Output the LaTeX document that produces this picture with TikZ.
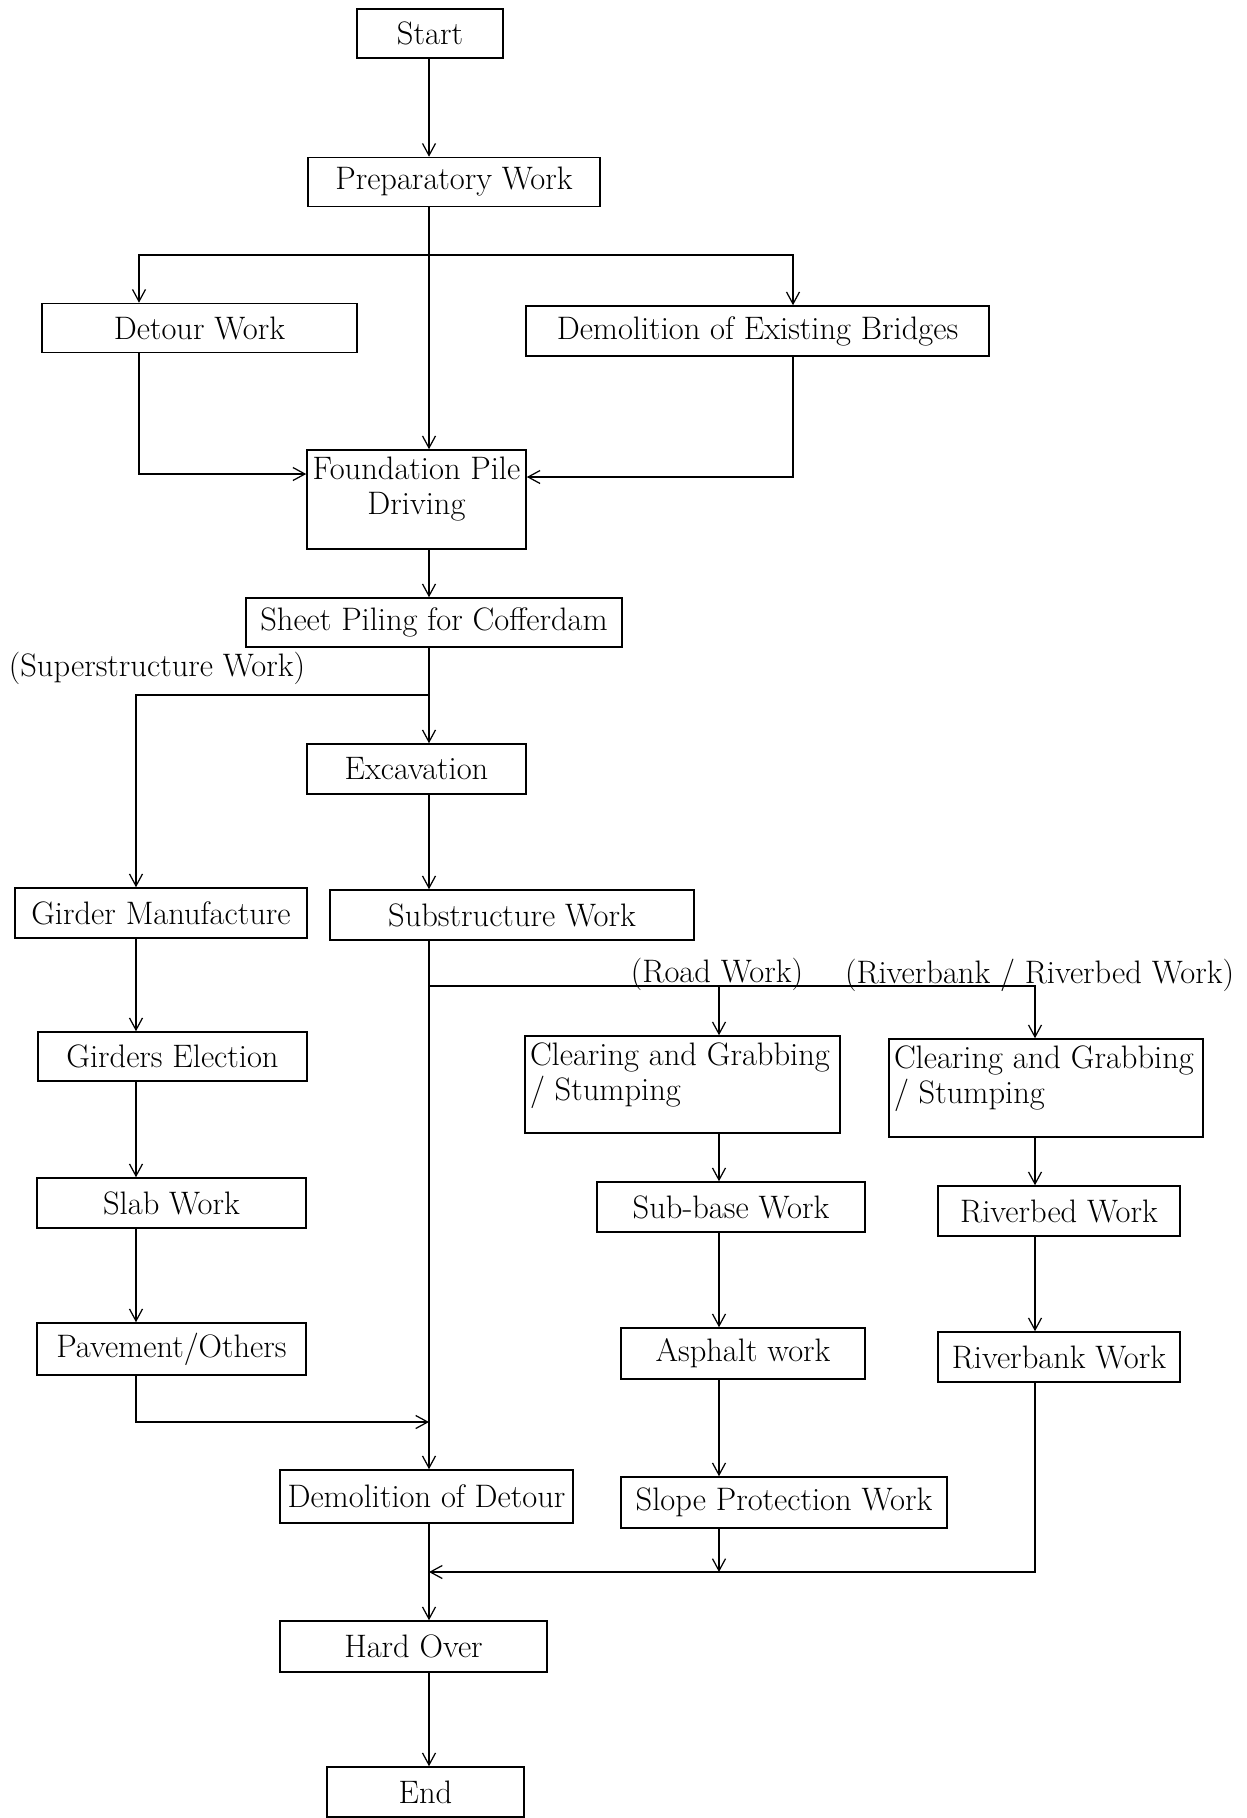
\documentclass[tikz,border=0pt]{standalone}
\usetikzlibrary{arrows.meta}

\begin{document}
\begin{tikzpicture}[
		box/.style={draw, line width=0.9pt, minimum height=0.98cm, inner sep=2pt, font=\fontsize{18.5}{20}\selectfont},
		tallbox/.style={box, inner sep=0.1cm},
		tag/.style={anchor=base, inner sep=0pt, font=\fontsize{18.5}{20}\selectfont},
		>={Straight Barb[length=2.4mm,width=2.6mm]},
		line width=0.7pt]
		\useasboundingbox (0,0) rectangle (24.94,-36.36);
		% columns of the connectors
		\coordinate (Axis) at (8.58,0);
		\coordinate (DetourCol) at (2.78,0);
		\coordinate (BridgeCol) at (15.86,0);
		\coordinate (LeftCol) at (2.72,0);
		\coordinate (MidCol) at (14.38,0);
		\coordinate (RightCol) at (20.70,0);

		\node [box, minimum width=2.92cm](Start) at (8.60,-0.67) {Start};
		\node [box, minimum width=5.84cm](Preparatory) at (9.08,-3.64) {Preparatory Work};
		\node [box, minimum width=6.30cm](Detour) at (3.99,-6.56) {Detour Work};
		\node [box, minimum width=9.26cm, minimum height=1.0cm](Bridges) at (15.15,-6.62) {Demolition of Existing Bridges};
		\node [tallbox, minimum width=4.38cm, minimum height=1.98cm](Foundation) at (8.33,-9.99) {\parbox[c][1.78cm][t]{4.18cm}{\centering\strut Foundation Pile\\Driving}};
		\node [box, minimum width=7.52cm](SheetPiling) at (8.68,-12.45) {Sheet Piling for Cofferdam};
		\node [tag](SuperLabel) at (3.14,-13.52) {(Superstructure Work)};
		\node [box, minimum width=4.38cm, minimum height=1.0cm](Excavation) at (8.33,-15.38) {Excavation};
		\node [box, minimum width=5.84cm, minimum height=1.0cm](Girder) at (3.22,-18.26) {Girder Manufacture};
		\node [box, minimum width=7.28cm, minimum height=1.0cm](Substructure) at (10.24,-18.30) {Substructure Work};
		\node [tag](RoadLabel) at (14.34,-19.64) {(Road Work)};
		\node [tag](RiverLabel) at (20.79,-19.66) {(Riverbank / Riverbed Work)};
		\node [box, minimum width=5.38cm](Election) at (3.45,-21.13) {Girders Election};
		\node [tallbox, minimum width=6.30cm, minimum height=1.94cm](RoadClearing) at (13.65,-21.69) {\parbox[c][1.74cm][t]{6.10cm}{\raggedright\strut Clearing and Grabbing\\/ Stumping}};
		\node [tallbox, minimum width=6.28cm, minimum height=1.96cm](RiverClearing) at (20.92,-21.76) {\parbox[c][1.76cm][t]{6.08cm}{\raggedright\strut Clearing and Grabbing\\/ Stumping}};
		\node [box, minimum width=5.38cm, minimum height=1.0cm](Slab) at (3.43,-24.06) {Slab Work};
		\node [box, minimum width=5.36cm, minimum height=1.0cm](Subbase) at (14.62,-24.14) {Sub-base Work};
		\node [box, minimum width=4.84cm, minimum height=1.0cm](Riverbed) at (21.18,-24.22) {Riverbed Work};
		\node [box, minimum width=5.38cm, minimum height=1.04cm](Pavement) at (3.43,-26.98) {Pavement/Others};
		\node [box, minimum width=4.88cm, minimum height=1.02cm](Asphalt) at (14.86,-27.07) {Asphalt work};
		\node [box, minimum width=4.84cm, minimum height=1.0cm](Riverbank) at (21.18,-27.14) {Riverbank Work};
		\node [box, minimum width=5.86cm, minimum height=1.06cm](Removal) at (8.53,-29.93) {Demolition of Detour};
		\node [box, minimum width=6.52cm, minimum height=1.02cm](Slope) at (15.68,-30.05) {Slope Protection Work};
		\node [box, minimum width=5.34cm, minimum height=1.02cm](HardOver) at (8.27,-32.93) {Hard Over};
		\node [box, minimum width=3.94cm, minimum height=1.0cm](End) at (8.51,-35.84) {End};

		% forks and joins
		\coordinate (ForkA) at (8.58,-5.10);
		\coordinate (ForkB) at (8.58,-13.90);
		\coordinate (ForkC) at (8.58,-19.72);
		\coordinate (JoinL) at (8.58,-28.44);
		\coordinate (JoinR) at (8.58,-31.44);

		\draw [->](Start.south -| Axis)--(Preparatory.north -| Axis);
		\draw [->](Preparatory.south -| Axis)--(Foundation.north -| Axis);
		\draw [->](ForkA) -| (Detour.north -| DetourCol);
		\draw [->](ForkA) -| (Bridges.north -| BridgeCol);
		\draw [->](Detour.south -| DetourCol) |- ([yshift=0.51cm]Foundation.west);
		\draw [->](Bridges.south -| BridgeCol) |- ([yshift=0.45cm]Foundation.east);
		\draw [->](Foundation.south -| Axis)--(SheetPiling.north -| Axis);
		\draw [->](SheetPiling.south -| Axis)--(Excavation.north -| Axis);
		\draw [->](ForkB) -| (Girder.north -| LeftCol);
		\draw [->](Excavation.south -| Axis)--(Substructure.north -| Axis);
		\draw [->](Substructure.south -| Axis)--(Removal.north -| Axis);
		\draw [->](ForkC) -| (RoadClearing.north -| MidCol);
		\draw [->](ForkC) -| (RiverClearing.north -| RightCol);

		\draw [->](Girder.south -| LeftCol)--(Election.north -| LeftCol);
		\draw [->](Election.south -| LeftCol)--(Slab.north -| LeftCol);
		\draw [->](Slab.south -| LeftCol)--(Pavement.north -| LeftCol);
		\draw [->](Pavement.south -| LeftCol) |- (JoinL);

		\draw [->](RoadClearing.south -| MidCol)--(Subbase.north -| MidCol);
		\draw [->](Subbase.south -| MidCol)--(Asphalt.north -| MidCol);
		\draw [->](Asphalt.south -| MidCol)--(Slope.north -| MidCol);
		\draw [->](Slope.south -| MidCol)--(JoinR -| MidCol);

		\draw [->](RiverClearing.south -| RightCol)--(Riverbed.north -| RightCol);
		\draw [->](Riverbed.south -| RightCol)--(Riverbank.north -| RightCol);
		\draw [->](Riverbank.south -| RightCol) |- (JoinR);

		\draw [->](Removal.south -| Axis)--(HardOver.north -| Axis);
		\draw [->](HardOver.south -| Axis)--(End.north -| Axis);
	\end{tikzpicture}
\end{document}
